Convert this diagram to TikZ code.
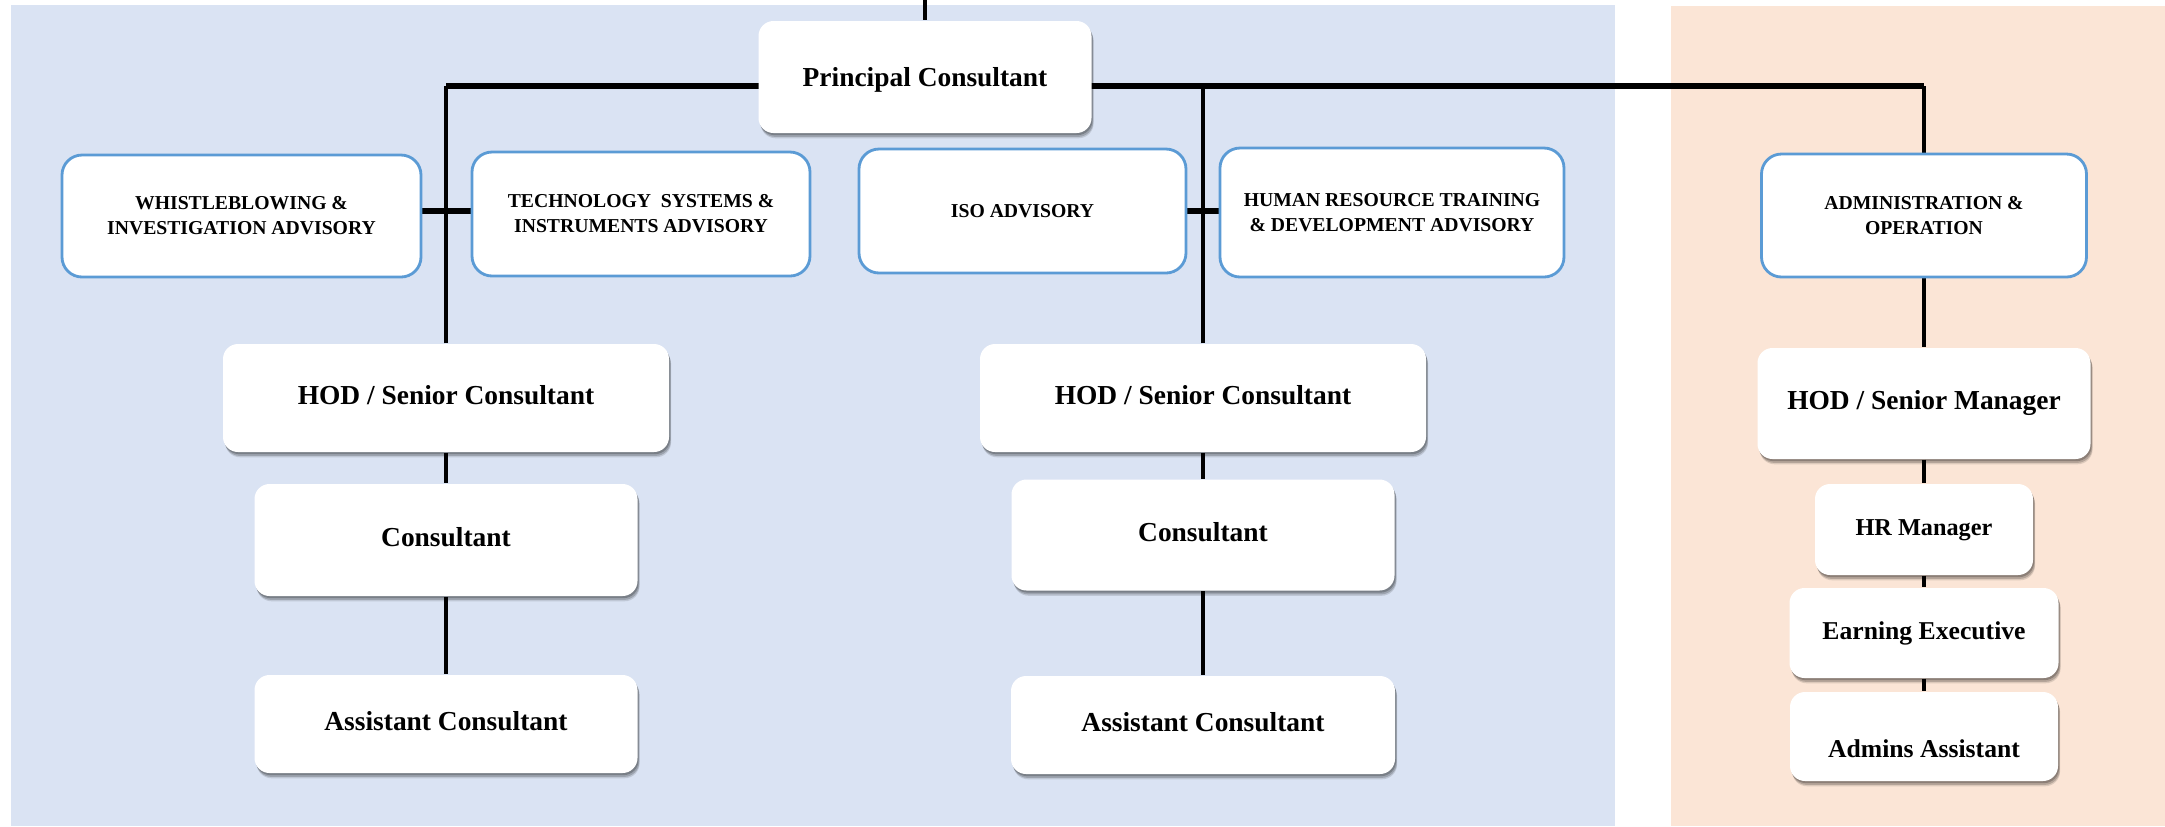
\documentclass[tikz,border=0pt]{standalone}
\usepackage{fontspec}
\setmainfont{Liberation Serif}
\usetikzlibrary{shadows}
\definecolor{panelblue}{HTML}{DAE3F3}
\definecolor{panelpeach}{HTML}{FBE5D6}
\definecolor{edgeblue}{HTML}{5B9BD5}
\pgfdeclarelayer{panels}
\pgfdeclarelayer{wires}
\pgfsetlayers{panels,wires,main}
\begin{document}
\begin{tikzpicture}[x=0.01cm, y=-0.01cm,
  sz/.style 2 args={minimum width=#1*0.01cm, minimum height=#2*0.01cm},
  toff/.style={text height=5.2pt+#1*0.02cm, text depth=0pt},
  soft shadow/.style={
    drop shadow={shadow xshift=0.6pt, shadow yshift=-1.5pt, opacity=0.12, fill=black},
    drop shadow={shadow xshift=0.5pt, shadow yshift=-1.1pt, opacity=0.18, fill=black},
    drop shadow={shadow xshift=0.3pt, shadow yshift=-0.6pt, opacity=0.22, fill=black}},
  card/.style={rectangle, rounded corners=0.15cm, fill=white, inner sep=0pt, align=center,
    soft shadow, toff=-3},
  post/.style={card, font=\fontsize{7.8}{9}\selectfont\bfseries},
  minor/.style={card, font=\fontsize{7.3}{9}\selectfont\bfseries},
  advisory/.style={rectangle, rounded corners=0.2cm, fill=white, draw=edgeblue, line width=0.8pt,
    inner sep=0pt, align=center, font=\fontsize{5.6}{7.1}\selectfont\bfseries},
  wire/.style={line width=1.4pt, black},
  bus/.style={line width=1.7pt, black},
  stub/.style={line width=1.9pt, black}
]
\useasboundingbox (0,0) rectangle (2165,826);

% top of the chart
\node[post, sz={333}{112}, toff=0] (pc) at (925,77) {Principal Consultant};

% advisory units
\node[advisory, sz={359}{122}] (wb) at (241.5,216) {WHISTLEBLOWING \&\\INVESTIGATION ADVISORY};
\node[advisory, sz={338}{124}] (tech) at (641,214) {TECHNOLOGY\ \ SYSTEMS \&\\INSTRUMENTS ADVISORY};
\node[advisory, sz={327}{124}] (iso) at (1022.5,211) {ISO ADVISORY};
\node[advisory, sz={344}{129}] (hrtd) at (1392,212.5) {HUMAN RESOURCE TRAINING\\\& DEVELOPMENT ADVISORY};
\node[advisory, sz={325}{123}] (admin) at (1924,215.5) {ADMINISTRATION \&\\OPERATION};

% first consulting line
\node[post, sz={446}{108}] (hod1) at (446,398) {HOD / Senior Consultant};
\node[post, sz={383}{112}] (con1) at (446,540) {Consultant};
\node[post, sz={383}{98}] (ast1) at (446,724) {Assistant Consultant};

% second consulting line
\node[post, sz={446}{108}] (hod2) at (1203,398) {HOD / Senior Consultant};
\node[post, sz={383}{111}] (con2) at (1203,535) {Consultant};
\node[post, sz={384}{98}] (ast2) at (1203,725) {Assistant Consultant};

% administration line
\node[post, sz={333}{111}] (hod3) at (1924,403.5) {HOD / Senior Manager};
\node[minor, sz={218}{91}, font=\fontsize{6.9}{9}\selectfont\bfseries] (hrm) at (1924,529.5) {HR Manager};
\node[minor, sz={269}{90}] (earn) at (1924,633) {Earning Executive};
\node[minor, sz={268}{89}, toff=12] (adm) at (1924,736.5) {Admins Assistant};

\begin{pgfonlayer}{panels}
  \fill[panelblue] (11,5) rectangle (1615,826);
  \fill[panelpeach] (1671,6) rectangle (2165,826);
\end{pgfonlayer}

\begin{pgfonlayer}{wires}
  \coordinate (feed) at (925,0);
  \coordinate (busR) at (1924,86);
  \coordinate (stubL) at (446,211);
  \coordinate (stubR) at (1203,211);
  \draw[wire] (feed) -- (pc.north);
  \draw[bus] (hod1.north |- busR) -- (busR);
  \draw[wire] (hod1.north) -- (hod1.north |- busR);
  \draw[wire] (hod2.north) -- (hod2.north |- busR);
  \draw[wire] (busR) -- (admin.north);
  \draw[stub] (wb.east |- stubL) -- (tech.west |- stubL);
  \draw[stub] (iso.east |- stubR) -- (hrtd.west |- stubR);
  \draw[wire] (hod1.south) -- (con1.north);
  \draw[wire] (con1.south) -- (ast1.north);
  \draw[wire] (hod2.south) -- (con2.north);
  \draw[wire] (con2.south) -- (ast2.north);
  \draw[wire] (admin.south) -- (hod3.north);
  \draw[wire] (hod3.south) -- (hrm.north);
  \draw[wire] (hrm.south) -- (earn.north);
  \draw[wire] (earn.south) -- (adm.north);
\end{pgfonlayer}
\end{tikzpicture}
\end{document}
